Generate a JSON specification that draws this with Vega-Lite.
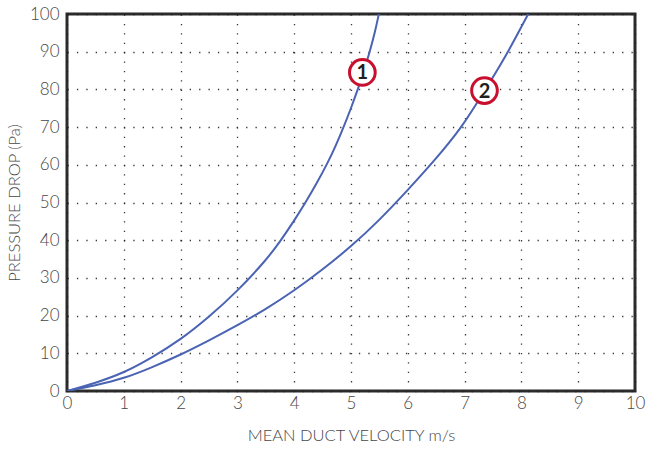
{
  "$schema": "https://vega.github.io/schema/vega-lite/v6.json",
  "width": 568,
  "height": 377,
  "autosize": {"type": "none"},
  "padding": {"left": 67, "top": 14, "right": 11, "bottom": 59},
  "background": "white",
  "config": {
    "view": {"stroke": "#2b2b2b", "strokeWidth": 3},
    "font": "Lato",
    "axis": {
      "labelFont": "Lato",
      "titleFont": "Lato",
      "labelColor": "#474747",
      "titleColor": "#474747",
      "labelFontSize": 17,
      "labelFontWeight": 300,
      "titleFontSize": 16.5,
      "titleFontWeight": 300,
      "ticks": false,
      "domain": false,
      "grid": true,
      "gridColor": "#222222",
      "gridDash": [1.3, 8.1],
      "gridWidth": 1.3,
      "gridOpacity": 0.9,
      "labelOverlap": false,
      "labelFlush": false,
      "format": "d"
    }
  },
  "datasets": {
    "curves": [
      {"v": 0, "p": 0, "s": "1"},
      {"v": 0.5, "p": 2.1, "s": "1"},
      {"v": 1, "p": 4.8, "s": "1"},
      {"v": 1.5, "p": 8.9, "s": "1"},
      {"v": 2, "p": 13.6, "s": "1"},
      {"v": 2.5, "p": 19.6, "s": "1"},
      {"v": 3, "p": 26.5, "s": "1"},
      {"v": 3.5, "p": 34.6, "s": "1"},
      {"v": 3.75, "p": 39.6, "s": "1"},
      {"v": 4, "p": 45.2, "s": "1"},
      {"v": 4.2, "p": 50, "s": "1"},
      {"v": 4.4, "p": 55.2, "s": "1"},
      {"v": 4.58, "p": 60.2, "s": "1"},
      {"v": 4.73, "p": 65, "s": "1"},
      {"v": 4.87, "p": 70, "s": "1"},
      {"v": 5.0, "p": 75, "s": "1"},
      {"v": 5.12, "p": 80, "s": "1"},
      {"v": 5.23, "p": 85, "s": "1"},
      {"v": 5.33, "p": 90, "s": "1"},
      {"v": 5.42, "p": 95, "s": "1"},
      {"v": 5.49, "p": 100, "s": "1"},
      {"v": 0, "p": 0, "s": "2"},
      {"v": 0.5, "p": 1.5, "s": "2"},
      {"v": 1, "p": 3.3, "s": "2"},
      {"v": 1.5, "p": 6.3, "s": "2"},
      {"v": 2, "p": 9.6, "s": "2"},
      {"v": 2.5, "p": 13.4, "s": "2"},
      {"v": 3, "p": 17.4, "s": "2"},
      {"v": 3.5, "p": 21.7, "s": "2"},
      {"v": 4, "p": 26.6, "s": "2"},
      {"v": 4.5, "p": 32.2, "s": "2"},
      {"v": 5, "p": 38.3, "s": "2"},
      {"v": 5.5, "p": 45.3, "s": "2"},
      {"v": 6, "p": 53.3, "s": "2"},
      {"v": 6.5, "p": 61.6, "s": "2"},
      {"v": 6.95, "p": 70, "s": "2"},
      {"v": 7.2, "p": 76, "s": "2"},
      {"v": 7.45, "p": 82, "s": "2"},
      {"v": 7.77, "p": 90, "s": "2"},
      {"v": 8.12, "p": 100, "s": "2"}
    ],
    "labels": [
      {"v": 5.2, "p": 84.5, "s": "1"},
      {"v": 7.35, "p": 79.7, "s": "2"}
    ]
  },
  "encoding": {
    "x": {
      "field": "v", "type": "quantitative",
      "scale": {"domain": [0, 10], "nice": false},
      "axis": {"values": [0,1,2,3,4,5,6,7,8,9,10], "title": "MEAN DUCT VELOCITY m/s", "labelPadding": 4, "titlePadding": 16}
    },
    "y": {
      "field": "p", "type": "quantitative",
      "scale": {"domain": [0, 100], "nice": false},
      "axis": {"values": [0,10,20,30,40,50,60,70,80,90,100], "tickCount": 11, "title": "PRESSURE DROP (Pa)", "labelPadding": 8, "titlePadding": 7}
    }
  },
  "layer": [
    {
      "data": {"name": "curves"},
      "mark": {"type": "line", "interpolate": "basis", "strokeWidth": 2, "color": "#4a63b3", "clip": true},
      "encoding": {
        "detail": {"field": "s"}
      }
    },
    {
      "data": {"name": "labels"},
      "mark": {"type": "point", "shape": "circle", "size": 660, "filled": true, "fill": "white", "stroke": "#c8102e", "strokeWidth": 3, "opacity": 1},
      "encoding": {}
    },
    {
      "data": {"name": "labels"},
      "mark": {"type": "text", "font": "Lato", "fontSize": 20, "fontWeight": "bold", "color": "#231f20", "baseline": "middle", "align": "center", "dy": 1},
      "encoding": {
        "text": {"field": "s"}
      }
    }
  ]
}
